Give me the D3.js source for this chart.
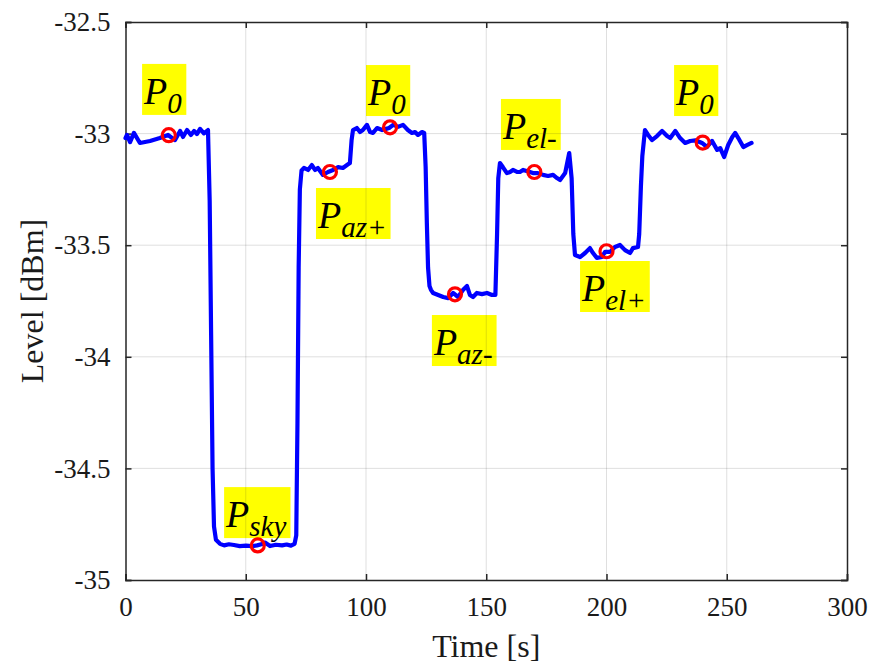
<!DOCTYPE html>
<html><head><meta charset="utf-8">
<script src="https://cdn.jsdelivr.net/npm/d3@7"></script>
<style>
html,body{margin:0;padding:0;background:#fff;}
svg{display:block;}
text{font-family:"Liberation Serif","DejaVu Serif",serif;}
</style></head>
<body>
<svg id="chart" width="871" height="669"></svg>
<script>
// ---- data ----
const time = [0,0.6,1.9,3.5,6.0,10.2,14.3,17.7,20.6,22.7,23.9,25.6,27.2,28.5,29.7,31.0,32.6,34.3,
 35.0,35.6,36.2,36.8,37.6,39.3,
 41.0,43.0,45.1,47.5,50.1,52.5,54.7,56.5,58.0,60.1,62.5,65.1,67.0,68.8,70.3,71.0,
 71.5,72.0,72.5,73.2,
 74.2,75.9,77.5,78.8,80.0,82.1,84.2,86.3,88.4,90.4,92.1,93.3,
 94.0,94.6,
 96.2,97.5,98.7,100.4,101.7,102.9,104.6,106.7,108.0,109.6,111.3,113.3,115.4,117.4,119.1,120.4,121.6,123.3,124.2,
 124.8,125.3,125.8,126.4,127.0,
 127.9,130.0,132.1,134.2,136.2,138.3,140.3,142.0,143.2,144.5,146.1,148.2,150.3,152.4,153.8,
 154.5,155.0,155.7,
 156.9,158.6,159.9,161.1,162.8,164.0,165.3,167.5,169.4,171.5,173.6,175.7,177.8,179.4,180.7,182.8,184.5,185.5,
 186.2,186.9,
 189.0,191.1,193.1,194.4,196.0,198.1,199.4,201.5,203.5,205.6,207.7,209.8,211.0,213.1,213.6,
 214.3,214.9,216.0,
 217.3,218.9,221.0,223.1,225.2,226.5,228.6,230.6,232.7,234.8,237.0,239.7,241.8,243.9,246.0,247.3,248.9,250.6,252.3,253.5,254.8,256.9,258.6,260.3];
const level = [-33.020,-33.006,-33.038,-32.997,-33.042,-33.033,-33.020,-33.006,-33.029,-32.988,-33.015,-32.984,-33.006,-32.988,-33.002,-32.979,-32.999,-32.984,
 -33.300,-33.900,-34.500,-34.760,-34.820,-34.838,
 -34.845,-34.840,-34.843,-34.848,-34.846,-34.848,-34.845,-34.840,-34.832,-34.848,-34.842,-34.845,-34.841,-34.846,-34.838,-34.800,
 -34.300,-33.600,-33.250,-33.165,
 -33.154,-33.163,-33.141,-33.163,-33.154,-33.185,-33.172,-33.163,-33.150,-33.154,-33.141,-33.132,
 -33.030,-32.984,
 -32.975,-32.993,-32.984,-32.961,-32.993,-32.997,-32.975,-32.984,-32.980,-32.975,-32.961,-32.970,-32.961,-32.984,-32.997,-32.993,-33.006,-32.993,-32.997,
 -33.150,-33.400,-33.600,-33.683,-33.700,
 -33.714,-33.723,-33.732,-33.737,-33.714,-33.732,-33.701,-33.683,-33.723,-33.732,-33.714,-33.719,-33.714,-33.723,-33.723,
 -33.450,-33.200,-33.132,
 -33.150,-33.177,-33.172,-33.163,-33.172,-33.172,-33.163,-33.170,-33.177,-33.177,-33.185,-33.190,-33.185,-33.199,-33.208,-33.177,-33.087,-33.200,
 -33.450,-33.544,
 -33.553,-33.535,-33.513,-33.535,-33.557,-33.553,-33.530,-33.530,-33.508,-33.499,-33.522,-33.535,-33.513,-33.508,-33.450,
 -33.239,-33.100,-32.984,
 -33.006,-33.029,-33.011,-32.988,-33.011,-33.020,-32.988,-33.020,-33.042,-33.033,-33.030,-33.042,-33.060,-33.033,-33.073,-33.065,-33.105,-33.051,-33.015,-32.997,-33.020,-33.060,-33.051,-33.042];

const markerTime  = [18, 55, 85, 110, 137, 170, 200, 240];
const markerLevel = [-33.007, -34.845, -33.172, -32.972, -33.720, -33.172, -33.527, -33.040];

const labelSub   = ["0", "sky", "az+", "0", "az-", "el-", "el+", "0"];
const labelTime  = [6.9, 41.0, 79.2, 100.0, 127.4, 156.1, 189.0, 228.1];
const labelLevel = [-32.867, -34.763, -33.423, -32.872, -33.992, -33.024, -33.750, -32.872];

const xTicks = [0, 50, 100, 150, 200, 250, 300];
const xTickLabels = ["0", "50", "100", "150", "200", "250", "300"];
const yTicks = [-35, -34.5, -34, -33.5, -33, -32.5];
const yTickLabels = ["-35", "-34.5", "-34", "-33.5", "-33", "-32.5"];

// ---- layout ----
const L = 125.5, R = 847, T = 22, B = 580;
const svg = d3.select("#chart");
const x = d3.scaleLinear().domain([0, 300]).range([L, R]);
const y = d3.scaleLinear().domain([-35, -32.5]).range([B, T]);
const axisCol = "#262626";
const serif = "'Liberation Serif', 'DejaVu Serif', serif";

// grid
const grid = svg.append("g").attr("stroke", axisCol).attr("stroke-opacity", 0.15).attr("stroke-width", 1);

// label boxes
const labG = svg.append("g");
labelSub.forEach((s, i) => {
  const g = labG.append("g");
  const bx = x(labelTime[i]), by = y(labelLevel[i]);
  const rect = g.append("rect").attr("fill", "#ffff00");
  const t = g.append("text").attr("x", bx + 2).attr("y", by)
    .attr("font-style", "italic").attr("fill", "#000").style("font-family", serif);
  t.append("tspan").attr("font-size", 38).text("P");
  t.append("tspan").attr("font-size", 29).attr("dy", 9).text(s);
  const bb = t.node().getBBox();
  rect.attr("x", bx).attr("y", by - 40).attr("width", bb.width + 5).attr("height", 51);
});

grid.selectAll("line.v").data(xTicks.slice(1, -1)).join("line").attr("class", "v")
  .attr("x1", d => x(d)).attr("x2", d => x(d)).attr("y1", T).attr("y2", B);
grid.selectAll("line.h").data(yTicks.slice(1, -1)).join("line").attr("class", "h")
  .attr("y1", d => y(d)).attr("y2", d => y(d)).attr("x1", L).attr("x2", R);
grid.raise();

// axes
const ax = svg.append("g");
ax.append("g").attr("transform", `translate(0,${B})`)
  .call(d3.axisBottom(x).tickValues(xTicks).tickSize(-6).tickPadding(17).tickFormat((d, i) => xTickLabels[i]));
ax.append("g").attr("transform", `translate(0,${T})`)
  .call(d3.axisTop(x).tickValues(xTicks).tickSize(-6).tickFormat(""));
ax.append("g").attr("transform", `translate(${L},0)`)
  .call(d3.axisLeft(y).tickValues(yTicks).tickSize(-6).tickPadding(15).tickFormat((d, i) => yTickLabels[i]));
ax.append("g").attr("transform", `translate(${R},0)`)
  .call(d3.axisRight(y).tickValues(yTicks).tickSize(-6).tickFormat(""));
ax.selectAll("path.domain").attr("stroke", axisCol).attr("stroke-width", 1.5);
ax.selectAll(".tick line").attr("stroke", axisCol).attr("stroke-width", 1.5);
ax.selectAll("text").attr("fill", "#1a1a1a").attr("font-size", 27).style("font-family", serif);

// axis titles
svg.append("text").attr("x", (L + R) / 2).attr("y", 657).attr("text-anchor", "middle")
  .attr("font-size", 32).attr("fill", "#1a1a1a").style("font-family", serif).text("Time [s]");
svg.append("text").attr("transform", `translate(43,${(T + B) / 2}) rotate(-90)`).attr("text-anchor", "middle")
  .attr("font-size", 32).attr("fill", "#1a1a1a").style("font-family", serif).text("Level [dBm]");

// line
const pts = time.map((t, i) => [t, level[i]]);
svg.append("path").datum(pts)
  .attr("fill", "none").attr("stroke", "#0000ff").attr("stroke-width", 4.2)
  .attr("stroke-linejoin", "round").attr("stroke-linecap", "round")
  .attr("d", d3.line().x(d => x(d[0])).y(d => y(d[1])));

// markers
svg.append("g").selectAll("circle").data(markerTime).join("circle")
  .attr("cx", d => x(d)).attr("cy", (d, i) => y(markerLevel[i])).attr("r", 6.5)
  .attr("fill", "none").attr("stroke", "#ff0000").attr("stroke-width", 3.2);
</script>
</body></html>
